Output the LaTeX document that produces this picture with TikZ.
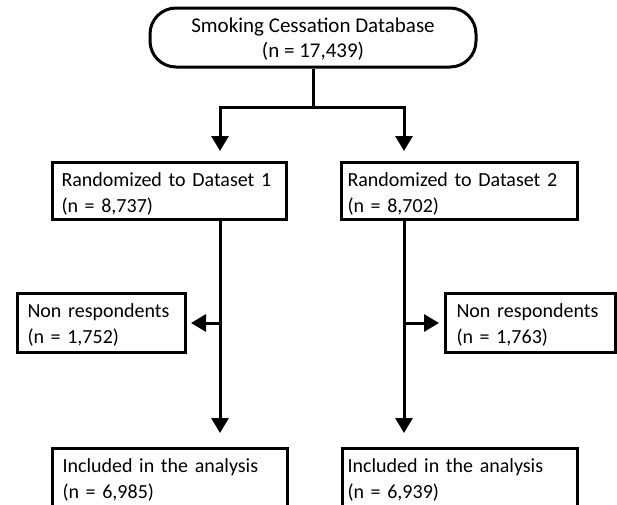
\documentclass[tikz,border=0pt]{standalone}
\usepackage{fontspec}
\setmainfont{Carlito}
\usetikzlibrary{arrows.meta}
\begin{document}
\begin{tikzpicture}[x=1pt,y=-1pt,line width=3pt,
    every node/.style={font=\fontsize{20}{26}\selectfont},
    box/.style={draw,anchor=north west,align=left,inner ysep=0pt,
        execute at begin node={\rule{0pt}{24pt}}},
    arr/.style={-{Triangle[length=15pt,width=17pt]}}]
    \useasboundingbox (0,0) rectangle (617,504);
    \node[draw,rounded corners=26pt,minimum width=326pt,minimum height=59pt,inner sep=0pt,
        align=center,font=\fontsize{21}{25}\selectfont] (db) at (313,37.5)
        {\rule{0pt}{18pt}Smoking Cessation Database\\(n = 17,439)\rule[-2pt]{0pt}{2pt}};
    \node[box,inner xsep=9pt,text width=216pt,execute at end node={\rule[-7pt]{0pt}{7pt}}] (d1) at (51,161)
        {Randomized to Dataset 1\\(n = 8,737)};
    \node[box,inner xsep=6pt,text width=224pt,execute at end node={\rule[-7pt]{0pt}{7pt}}] (d2) at (340,161)
        {Randomized to Dataset 2\\(n = 8,702)};
    \node[box,inner xsep=10pt,text width=148pt,execute at end node={\rule[-9pt]{0pt}{9pt}}] (n1) at (16,292)
        {Non respondents\\(n = 1,752)};
    \node[box,inner xsep=11pt,text width=148pt,execute at end node={\rule[-9pt]{0pt}{9pt}}] (n2) at (444,292)
        {Non respondents\\(n = 1,763)};
    \node[box,inner xsep=10pt,text width=215pt,execute at end node={\rule[-20pt]{0pt}{20pt}}] (a1) at (51,447)
        {Included in the analysis\\(n = 6,985)};
    \node[box,inner xsep=5pt,text width=225pt,execute at end node={\rule[-20pt]{0pt}{20pt}}] (a2) at (341,447)
        {Included in the analysis\\(n = 6,939)};
    \coordinate (s1) at (220,107);
    \coordinate (s2) at (404,107);
    % split to both datasets
    \draw (db.south) -- (db.south |- s1);
    \draw[line cap=rect] (s1) -- (s2);
    \draw[arr,shorten >=10pt] (s1) -- (s1 |- d1.north);
    \draw[arr,shorten >=10pt] (s2) -- (s2 |- d2.north);
    % dataset to analysis
    \draw[arr,shorten >=14pt] (s1 |- d1.south) -- (s1 |- a1.north);
    \draw[arr,shorten >=14pt] (s2 |- d2.south) -- (s2 |- a2.north);
    \draw[arr,shorten >=4pt] (s1 |- n1.east) -- (n1.east);
    \draw[arr,shorten >=5pt] (s2 |- n2.west) -- (n2.west);
\end{tikzpicture}
\end{document}
